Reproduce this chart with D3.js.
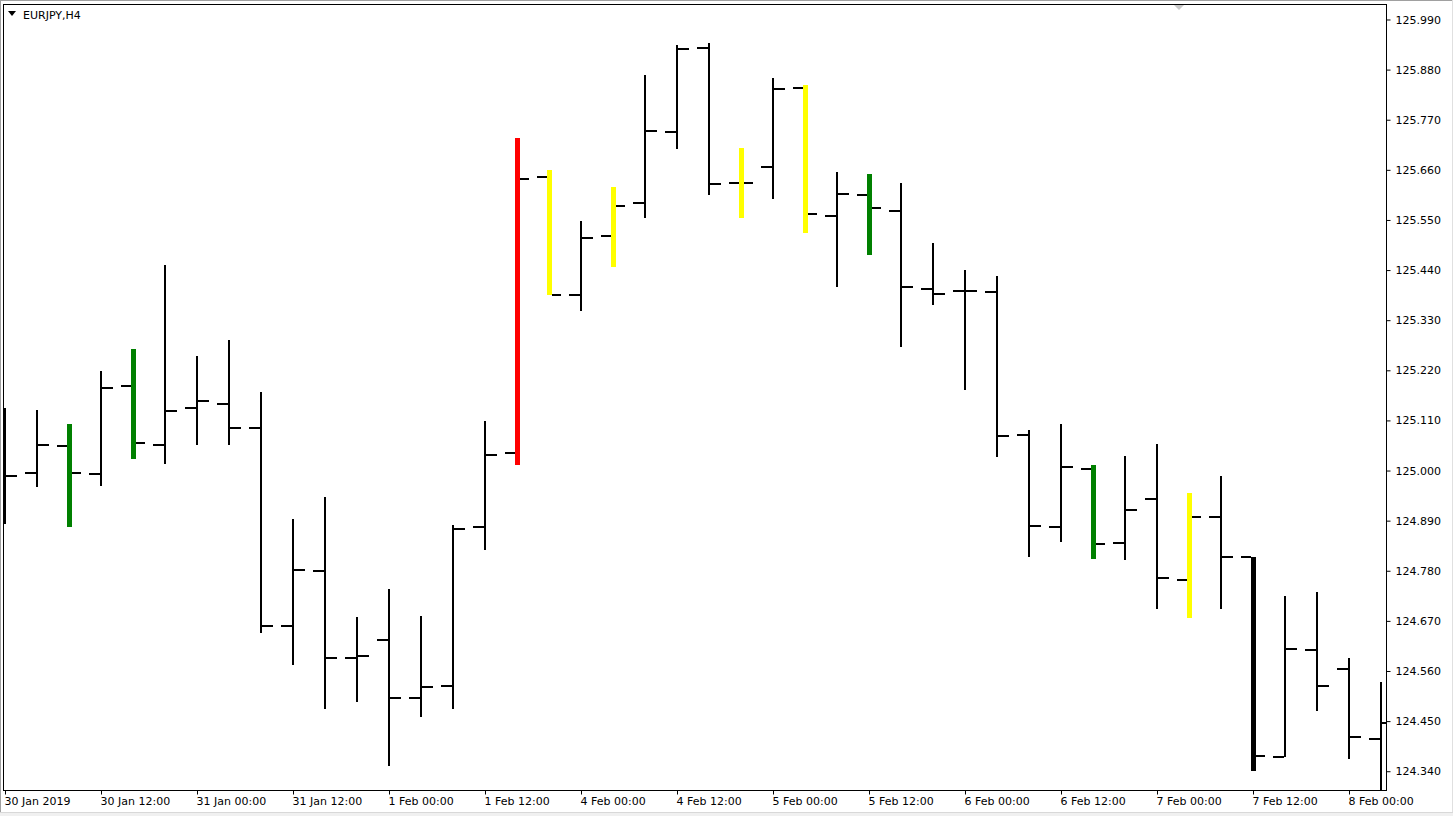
<!DOCTYPE html>
<html>
<head>
<meta charset="utf-8">
<script src="https://cdn.jsdelivr.net/npm/d3@7"></script>
<style>
  html, body { margin: 0; padding: 0; background: #ffffff; }
  svg { display: block; }
  text { font-family: "DejaVu Sans", sans-serif; font-size: 11px; fill: #000; }
</style>
</head>
<body>
<svg id="chart" width="1453" height="816"></svg>
<script>
// ---------------- DATA ----------------
const symbolTitle = "EURJPY,H4";

const times = [
  "30 Jan 00:00","30 Jan 04:00","30 Jan 08:00","30 Jan 12:00","30 Jan 16:00","30 Jan 20:00",
  "31 Jan 00:00","31 Jan 04:00","31 Jan 08:00","31 Jan 12:00","31 Jan 16:00","31 Jan 20:00",
  "1 Feb 00:00","1 Feb 04:00","1 Feb 08:00","1 Feb 12:00","1 Feb 16:00","1 Feb 20:00",
  "4 Feb 00:00","4 Feb 04:00","4 Feb 08:00","4 Feb 12:00","4 Feb 16:00","4 Feb 20:00",
  "5 Feb 00:00","5 Feb 04:00","5 Feb 08:00","5 Feb 12:00","5 Feb 16:00","5 Feb 20:00",
  "6 Feb 00:00","6 Feb 04:00","6 Feb 08:00","6 Feb 12:00","6 Feb 16:00","6 Feb 20:00",
  "7 Feb 00:00","7 Feb 04:00","7 Feb 08:00","7 Feb 12:00","7 Feb 16:00","7 Feb 20:00",
  "8 Feb 00:00","8 Feb 04:00"
];

const opens  = [124.979,124.995,125.053,124.992,125.186,125.056,125.138,125.147,125.093,124.658,124.780,124.589,
                124.629,124.500,124.528,124.875,125.039,125.644,125.385,125.515,125.588,125.744,125.928,125.631,
                125.666,125.840,125.559,125.604,125.570,125.399,125.394,125.392,125.079,124.875,125.003,124.840,
                124.938,124.760,124.897,124.810,124.371,124.605,124.564,124.411];
const highs  = [125.137,125.133,125.102,125.219,125.267,125.452,125.251,125.287,125.172,124.894,124.943,124.679,
                124.740,124.681,124.880,125.109,125.730,125.659,125.548,125.622,125.868,125.934,125.938,125.709,
                125.861,125.846,125.655,125.651,125.631,125.499,125.440,125.426,125.088,125.102,125.012,125.032,
                125.058,124.951,124.987,124.810,124.725,124.733,124.588,124.535];
const lows   = [124.883,124.964,124.877,124.967,125.025,125.014,125.055,125.057,124.643,124.573,124.477,124.491,
                124.352,124.459,124.477,124.825,125.012,125.385,125.351,125.447,125.555,125.705,125.604,125.555,
                125.595,125.522,125.402,125.472,125.272,125.364,125.176,125.029,124.811,124.844,124.805,124.804,
                124.696,124.677,124.695,124.341,124.371,124.473,124.366,124.277];
const closes = [124.988,125.056,124.995,125.181,125.060,125.131,125.152,125.093,124.658,124.782,124.589,124.593,
                124.501,124.524,124.871,125.034,125.640,125.386,125.511,125.581,125.746,125.925,125.629,125.631,
                125.838,125.562,125.608,125.577,125.403,125.388,125.393,125.076,124.878,125.008,124.839,124.913,
                124.765,124.899,124.810,124.373,124.608,124.527,124.416,124.445];

// indicator signal bars (bar indices)
const buySignals   = [2, 4, 27, 34];
const spikeSignals = [16];
const warnSignals  = [17, 19, 23, 25, 37];
const sellSignals  = [39];

const priceTicks = [125.990,125.880,125.770,125.660,125.550,125.440,125.330,125.220,
                    125.110,125.000,124.890,124.780,124.670,124.560,124.450,124.340];

const timeTicks  = ["30 Jan 00:00","30 Jan 12:00","31 Jan 00:00","31 Jan 12:00","1 Feb 00:00","1 Feb 12:00",
                    "4 Feb 00:00","4 Feb 12:00","5 Feb 00:00","5 Feb 12:00","6 Feb 00:00","6 Feb 12:00",
                    "7 Feb 00:00","7 Feb 12:00","8 Feb 00:00"];
const timeTickLabels = ["30 Jan 2019","30 Jan 12:00","31 Jan 00:00","31 Jan 12:00","1 Feb 00:00","1 Feb 12:00",
                    "4 Feb 00:00","4 Feb 12:00","5 Feb 00:00","5 Feb 12:00","6 Feb 00:00","6 Feb 12:00",
                    "7 Feb 00:00","7 Feb 12:00","8 Feb 00:00"];

// ---------------- BUILD ----------------
const bars = times.map((t, i) => ({ t, i, o: opens[i], h: highs[i], l: lows[i], c: closes[i], sig: null }));
buySignals.forEach(i => bars[i].sig = "buy");
spikeSignals.forEach(i => bars[i].sig = "spike");
warnSignals.forEach(i => bars[i].sig = "warn");
sellSignals.forEach(i => bars[i].sig = "sell");
const sigColor = { buy: "#008000", spike: "#ff0000", warn: "#ffff00", sell: "#000000" };

const W = 1453, H = 816;
const plot = { left: 3.5, top: 4.5, right: 1386.5, bottom: 790.5 };

const svg = d3.select("#chart");

const x = d3.scalePoint().domain(times).range([5, 1381]).padding(0);
const y = d3.scaleLinear().domain([124.2988, 126.024]).range([790, 4]);

// outer window frame
svg.append("rect").attr("x", 0).attr("y", 0).attr("width", W).attr("height", H).attr("fill", "#ffffff");
svg.append("rect").attr("x", 0).attr("y", 812).attr("width", W).attr("height", 4).attr("fill", "#f0f0f0");
svg.append("line").attr("x1", 0).attr("x2", W).attr("y1", 0.5).attr("y2", 0.5).attr("stroke", "#a0a0a0").attr("stroke-width", 1);
svg.append("line").attr("x1", 0.5).attr("x2", 0.5).attr("y1", 0).attr("y2", 812).attr("stroke", "#a0a0a0").attr("stroke-width", 1);
svg.append("line").attr("x1", 1452.5).attr("x2", 1452.5).attr("y1", 0).attr("y2", 812).attr("stroke", "#e0e0e0").attr("stroke-width", 1);
svg.append("line").attr("x1", 0).attr("x2", W).attr("y1", 812.5).attr("y2", 812.5).attr("stroke", "#d8d8d8").attr("stroke-width", 1);

// clip
svg.append("defs").append("clipPath").attr("id", "plotClip")
  .append("rect").attr("x", 4).attr("y", 5).attr("width", 1382).attr("height", 785);

const g = svg.append("g").attr("clip-path", "url(#plotClip)");

// bars
const R = v => Math.round(y(v));
const bg = g.selectAll("g.bar").data(bars).join("g").attr("class", "bar");

bg.each(function(d) {
  const s = d3.select(this);
  const cx = x(d.t);
  if (d.sig) {
    s.append("rect")
      .attr("x", cx - 2).attr("width", 5)
      .attr("y", R(d.h)).attr("height", Math.max(1, R(d.l) - R(d.h)))
      .attr("fill", sigColor[d.sig]);
  } else {
    s.append("line")
      .attr("x1", cx).attr("x2", cx)
      .attr("y1", R(d.h)).attr("y2", R(d.l))
      .attr("stroke", "#000").attr("stroke-width", 2);
  }
  const offL = d.sig ? 2 : 1, offR = d.sig ? 3 : 1;
  s.append("line")
    .attr("x1", cx - 12).attr("x2", cx - offL)
    .attr("y1", R(d.o)).attr("y2", R(d.o))
    .attr("stroke", "#000").attr("stroke-width", 2);
  s.append("line")
    .attr("x1", cx + offR).attr("x2", cx + 12)
    .attr("y1", R(d.c)).attr("y2", R(d.c))
    .attr("stroke", "#000").attr("stroke-width", 2);
});

// plot frame
svg.append("rect")
  .attr("x", plot.left).attr("y", plot.top)
  .attr("width", plot.right - plot.left).attr("height", plot.bottom - plot.top)
  .attr("fill", "none").attr("stroke", "#000").attr("stroke-width", 1);

// y axis (right)
const yAxis = d3.axisRight(y).tickValues(priceTicks).tickFormat(d3.format(".3f")).tickSize(4).tickPadding(5);
const yg = svg.append("g").attr("transform", "translate(1386.5,0)").call(yAxis);
yg.select(".domain").remove();
yg.selectAll(".tick line").attr("stroke", "#000");
yg.selectAll(".tick text").attr("font-family", "DejaVu Sans, sans-serif").attr("font-size", 11).attr("fill", "#000");

// x axis (bottom)
const labelOf = new Map(timeTicks.map((t, i) => [t, timeTickLabels[i]]));
const xAxis = d3.axisBottom(x).tickValues(timeTicks).tickFormat(t => labelOf.get(t)).tickSize(4).tickPadding(3);
const xg = svg.append("g").attr("transform", "translate(0,790.5)").call(xAxis);
xg.select(".domain").remove();
xg.selectAll(".tick line").attr("stroke", "#000");
xg.selectAll(".tick text").attr("text-anchor", "start").attr("x", -1)
  .attr("font-family", "DejaVu Sans, sans-serif").attr("font-size", 11).attr("fill", "#000");

// title with dropdown triangle
svg.append("path").attr("d", "M8,11 L16,11 L12,16 Z").attr("fill", "#000");
svg.append("text").attr("x", 23).attr("y", 19).text(symbolTitle);

// chart shift marker
svg.append("path").attr("d", "M1174,5 L1184,5 L1179,10 Z").attr("fill", "#c8c8c8");
</script>
</body>
</html>
